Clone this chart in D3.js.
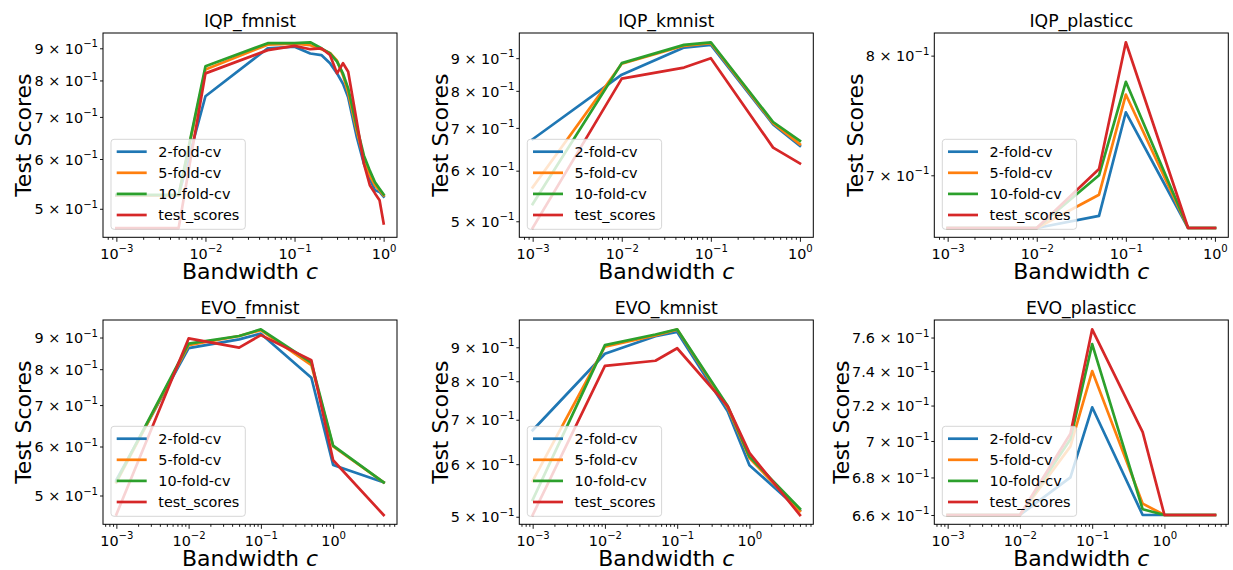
<!DOCTYPE html>
<html>
<head>
<meta charset="utf-8">
<script src="https://cdn.jsdelivr.net/npm/d3@7.9.0/dist/d3.min.js"></script>
<style>
  body { margin: 0; background: #fff; }
  svg { display: block; font-family: 'DejaVu Sans', sans-serif; }
</style>
</head>
<body>
<svg id="chart" width="1233" height="570"></svg>
<script>
const SERIES_NAMES = ['2-fold-cv', '5-fold-cv', '10-fold-cv', 'test_scores'];
const SERIES_COLORS = ['#1f77b4', '#ff7f0e', '#2ca02c', '#d62728'];

// bandwidths used by each experiment
const iqpFmnistBandwidth = [0.001, 0.005, 0.01, 0.05, 0.1, 0.15, 0.2, 0.25, 0.3, 0.35, 0.4, 0.5, 0.6, 0.7, 0.8, 0.9, 1.0];
const iqpBandwidth = [0.001, 0.01, 0.05, 0.1, 0.5, 1.0];
const evoBandwidth = [0.001, 0.01, 0.05, 0.1, 0.5, 1.0, 5.0];

// scores: one row per series, same order as SERIES_NAMES
const iqpFmnistScores = [
  [0.525, 0.525, 0.755, 0.900, 0.905, 0.883, 0.878, 0.852, 0.821, 0.790, 0.752, 0.650, 0.590, 0.558, 0.535, 0.532, 0.523],
  [0.525, 0.525, 0.833, 0.912, 0.915, 0.910, 0.897, 0.885, 0.860, 0.815, 0.765, 0.665, 0.600, 0.565, 0.545, 0.535, 0.525],
  [0.526, 0.526, 0.843, 0.917, 0.917, 0.920, 0.900, 0.883, 0.857, 0.820, 0.777, 0.675, 0.608, 0.575, 0.551, 0.538, 0.527],
  [0.466, 0.466, 0.821, 0.894, 0.908, 0.897, 0.900, 0.878, 0.821, 0.852, 0.826, 0.688, 0.590, 0.545, 0.529, 0.516, 0.474],
];
const iqpKmnistScores = [
  [0.672, 0.848, 0.935, 0.944, 0.709, 0.656],
  [0.565, 0.882, 0.941, 0.950, 0.712, 0.660],
  [0.532, 0.884, 0.944, 0.953, 0.715, 0.668],
  [0.488, 0.836, 0.870, 0.900, 0.652, 0.616],
];
const iqpPlasticcScores = [
  [0.660, 0.660, 0.669, 0.751, 0.660, 0.660],
  [0.660, 0.660, 0.685, 0.766, 0.660, 0.660],
  [0.660, 0.660, 0.700, 0.777, 0.660, 0.660],
  [0.660, 0.660, 0.705, 0.812, 0.660, 0.660],
];
const evoFmnistScores = [
  [0.530, 0.865, 0.894, 0.913, 0.775, 0.560, 0.525],
  [0.525, 0.875, 0.905, 0.925, 0.812, 0.600, 0.525],
  [0.527, 0.880, 0.905, 0.928, 0.820, 0.602, 0.525],
  [0.466, 0.897, 0.867, 0.908, 0.827, 0.570, 0.465],
];
const evoKmnistScores = [
  [0.675, 0.880, 0.935, 0.949, 0.721, 0.598, 0.511],
  [0.566, 0.902, 0.938, 0.957, 0.730, 0.613, 0.510],
  [0.530, 0.907, 0.941, 0.958, 0.734, 0.616, 0.514],
  [0.503, 0.844, 0.859, 0.897, 0.734, 0.624, 0.503],
];
const evoPlasticcScores = [
  [0.660, 0.660, 0.680, 0.719, 0.660, 0.660, 0.660],
  [0.660, 0.660, 0.697, 0.740, 0.666, 0.660, 0.660],
  [0.660, 0.660, 0.701, 0.756, 0.663, 0.660, 0.660],
  [0.660, 0.660, 0.704, 0.765, 0.705, 0.660, 0.660],
];

// y tick values (labelled as m x 10^-1)
const wideTicks = [0.5, 0.6, 0.7, 0.8, 0.9];
const iqpPlasticcTicks = [0.7, 0.8];
const evoPlasticcTicks = [0.66, 0.68, 0.70, 0.72, 0.74, 0.76];

const panels = [
  { title: 'IQP_fmnist', x: iqpFmnistBandwidth, scores: iqpFmnistScores, yTicks: wideTicks },
  { title: 'IQP_kmnist', x: iqpBandwidth, scores: iqpKmnistScores, yTicks: wideTicks },
  { title: 'IQP_plasticc', x: iqpBandwidth, scores: iqpPlasticcScores, yTicks: iqpPlasticcTicks },
  { title: 'EVO_fmnist', x: evoBandwidth, scores: evoFmnistScores, yTicks: wideTicks },
  { title: 'EVO_kmnist', x: evoBandwidth, scores: evoKmnistScores, yTicks: wideTicks },
  { title: 'EVO_plasticc', x: evoBandwidth, scores: evoPlasticcScores, yTicks: evoPlasticcTicks },
];

const COL_LEFT = [103, 519.3, 934.3];
const ROW_TOP = [33, 320];
const AXES_W = 294;
const AXES_H = 204.3;
const LINE_W = 2.7;
const TICK_FONT = 14.4;

const svg = d3.select('#chart');

// matplotlib-style autoscale: 5% margin in log space
function logPadded(values) {
  const [lo, hi] = d3.extent(values);
  const a = Math.log10(lo);
  const b = Math.log10(hi);
  const m = (b - a) * 0.05;
  return [10 ** (a - m), 10 ** (b + m)];
}

function superscript(text, base, exp) {
  text.text(null);
  text.append('tspan').text(base);
  text.append('tspan')
    .attr('dy', -6.5)
    .attr('font-size', TICK_FONT * 0.7)
    .text(exp);
}

function mantissa(v) {
  return String(Math.round(v * 100) / 10);
}

panels.forEach((panel, i) => {
  const left = COL_LEFT[i % 3];
  const top = ROW_TOP[Math.floor(i / 3)];
  const bottom = top + AXES_H;
  const right = left + AXES_W;

  const x = d3.scaleLog().domain(logPadded(panel.x)).range([left, right]);
  const y = d3.scaleLog().domain(logPadded(panel.scores.flat())).range([bottom, top]);

  const g = svg.append('g');
  const clipId = `clip-${i}`;
  g.append('clipPath').attr('id', clipId)
    .append('rect')
    .attr('x', left).attr('y', top)
    .attr('width', AXES_W).attr('height', AXES_H);

  // lines
  const line = d3.line()
    .x((d, j) => x(panel.x[j]))
    .y((d) => y(d));

  g.append('g')
    .attr('clip-path', `url(#${clipId})`)
    .selectAll('path')
    .data(panel.scores)
    .join('path')
    .attr('d', line)
    .attr('fill', 'none')
    .attr('stroke', (d, j) => SERIES_COLORS[j])
    .attr('stroke-width', LINE_W)
    .attr('stroke-linejoin', 'round')
    .attr('stroke-linecap', 'square');

  // x ticks
  const [x0, x1] = x.domain();
  const majors = d3.range(Math.ceil(Math.log10(x0)), Math.floor(Math.log10(x1)) + 1).map((e) => 10 ** e);
  const minors = [];
  d3.range(Math.floor(Math.log10(x0)), Math.ceil(Math.log10(x1))).forEach((e) => {
    for (let k = 2; k <= 9; k++) {
      const v = k * 10 ** e;
      if (v >= x0 && v <= x1) minors.push(v);
    }
  });

  const xMinor = g.append('g')
    .attr('transform', `translate(0,${bottom})`)
    .call(d3.axisBottom(x).tickValues(minors).tickSize(2.5).tickFormat(''));
  xMinor.select('.domain').remove();
  xMinor.selectAll('text').remove();

  const xMajor = g.append('g')
    .attr('transform', `translate(0,${bottom})`)
    .call(d3.axisBottom(x).tickValues(majors).tickSize(4.5).tickFormat(''));
  xMajor.select('.domain').remove();
  xMajor.selectAll('.tick text')
    .attr('y', 21.3)
    .attr('dy', 0)
    .attr('fill', '#000')
    .attr('font-family', 'DejaVu Sans')
    .attr('font-size', TICK_FONT)
    .each(function (d) {
      const e = Math.round(Math.log10(d));
      superscript(d3.select(this), '10', e < 0 ? `\u2212${-e}` : `${e}`);
    });

  // y ticks
  const yAxis = g.append('g')
    .attr('transform', `translate(${left},0)`)
    .call(d3.axisLeft(y).tickValues(panel.yTicks).tickSize(3).tickPadding(2).tickFormat(''));
  yAxis.select('.domain').remove();
  yAxis.selectAll('.tick text')
    .attr('dy', '0.36em')
    .attr('fill', '#000')
    .attr('font-family', 'DejaVu Sans')
    .attr('font-size', TICK_FONT)
    .each(function (d) {
      superscript(d3.select(this), `${mantissa(d)} \u00d7 10`, '\u22121');
    });
  g.selectAll('.tick line').attr('stroke', '#000').attr('stroke-width', 0.9);

  // spines
  g.append('rect')
    .attr('x', left).attr('y', top)
    .attr('width', AXES_W).attr('height', AXES_H)
    .attr('fill', 'none')
    .attr('stroke', '#000')
    .attr('stroke-width', 1);

  // title
  g.append('text')
    .attr('x', (left + right) / 2)
    .attr('y', top - 6)
    .attr('text-anchor', 'middle')
    .attr('font-size', 17.3)
    .text(panel.title);

  // axis labels
  const xLabel = g.append('text')
    .attr('x', (left + right) / 2)
    .attr('y', bottom + 41.3)
    .attr('text-anchor', 'middle')
    .attr('font-size', 22);
  xLabel.append('tspan').text('Bandwidth ');
  xLabel.append('tspan').attr('font-style', 'italic').text('c');

  let maxW = 0;
  yAxis.selectAll('.tick text').each(function () {
    maxW = Math.max(maxW, this.getBBox().width);
  });
  const yLabelX = left - 5 - maxW - 3;
  g.append('text')
    .attr('transform', `translate(${yLabelX},${(top + bottom) / 2}) rotate(-90)`)
    .attr('text-anchor', 'middle')
    .attr('font-size', 22)
    .text('Test Scores');

  // legend (lower left)
  const legend = g.append('g');
  const frame = legend.append('rect');
  const rows = legend.selectAll('g.row')
    .data(SERIES_NAMES)
    .join('g')
    .attr('class', 'row');
  const legendH = 90;
  const legendX = left + 8;
  const legendY = bottom - 8 - legendH;
  rows.append('line')
    .attr('x1', legendX + 5.7)
    .attr('x2', legendX + 35.7)
    .attr('y1', (d, j) => legendY + 12.4 + j * 21.1)
    .attr('y2', (d, j) => legendY + 12.4 + j * 21.1)
    .attr('stroke', (d, j) => SERIES_COLORS[j])
    .attr('stroke-width', LINE_W);
  const labels = rows.append('text')
    .attr('x', legendX + 47.3)
    .attr('y', (d, j) => legendY + 12.4 + j * 21.1)
    .attr('dy', '0.36em')
    .attr('font-size', 14.4)
    .text((d) => d);
  let textW = 0;
  labels.each(function () {
    textW = Math.max(textW, this.getComputedTextLength());
  });
  frame
    .attr('x', legendX)
    .attr('y', legendY)
    .attr('width', 47.3 + textW + 6)
    .attr('height', legendH)
    .attr('rx', 3)
    .attr('fill', '#fff')
    .attr('fill-opacity', 0.8)
    .attr('stroke', '#cccccc')
    .attr('stroke-opacity', 0.8)
    .attr('stroke-width', 1);
});
</script>
</body>
</html>
